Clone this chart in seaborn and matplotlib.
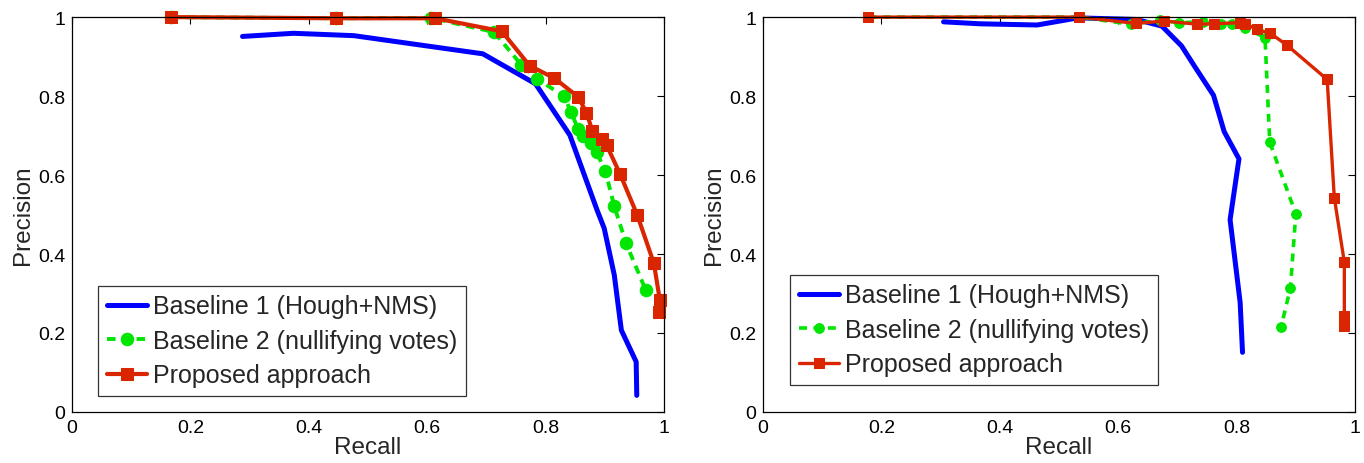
import matplotlib
matplotlib.use("Agg")
import matplotlib.pyplot as plt
import seaborn as sns

# left panel
left_b1_recall = [0.288, 0.374, 0.476, 0.694, 0.783, 0.841, 0.887, 0.899, 0.916, 0.928, 0.953, 0.954]
left_b1_prec = [0.951, 0.959, 0.953, 0.907, 0.831, 0.701, 0.511, 0.465, 0.347, 0.207, 0.127, 0.042]

left_b2_recall = [0.168, 0.446, 0.606, 0.713, 0.759, 0.786, 0.831, 0.843, 0.855, 0.863,
                  0.876, 0.886, 0.901, 0.916, 0.936, 0.969]
left_b2_prec = [1.0, 0.997, 0.998, 0.962, 0.879, 0.843, 0.800, 0.760, 0.716, 0.699,
                0.682, 0.658, 0.610, 0.521, 0.427, 0.309]

left_pr_recall = [0.168, 0.446, 0.614, 0.726, 0.773, 0.815, 0.855, 0.869, 0.879, 0.895,
                  0.903, 0.926, 0.955, 0.983, 0.993, 0.991]
left_pr_prec = [1.0, 0.997, 0.997, 0.964, 0.877, 0.845, 0.798, 0.758, 0.712, 0.692,
                0.676, 0.602, 0.498, 0.376, 0.283, 0.254]

# right panel
right_b1_recall = [0.305, 0.367, 0.463, 0.532, 0.631, 0.674, 0.707, 0.730, 0.761, 0.779,
                   0.804, 0.789, 0.806, 0.810]
right_b1_prec = [0.988, 0.983, 0.980, 0.998, 0.994, 0.977, 0.927, 0.873, 0.802, 0.710,
                 0.641, 0.487, 0.277, 0.151]

right_b2_recall = [0.178, 0.534, 0.621, 0.670, 0.703, 0.743, 0.773, 0.792, 0.815, 0.848,
                   0.856, 0.900, 0.891, 0.875]
right_b2_prec = [1.0, 1.0, 0.982, 0.992, 0.986, 0.988, 0.983, 0.982, 0.972, 0.948,
                 0.683, 0.502, 0.315, 0.214]

right_pr_recall = [0.178, 0.534, 0.630, 0.678, 0.733, 0.761, 0.806, 0.815, 0.834, 0.857,
                   0.885, 0.953, 0.965, 0.982, 0.982, 0.982]
right_pr_prec = [1.0, 1.0, 0.984, 0.990, 0.982, 0.983, 0.986, 0.983, 0.969, 0.959,
                 0.929, 0.842, 0.543, 0.379, 0.243, 0.218]

labels = ["Baseline 1 (Hough+NMS)", "Baseline 2 (nullifying votes)", "Proposed approach"]
ticks = [0, 0.2, 0.4, 0.6, 0.8, 1]
tick_labels = ["0", "0.2", "0.4", "0.6", "0.8", "1"]

BLUE = "#0000ff"
GREEN = "#00e600"
RED = "#d92600"

sns.set_style("white")
plt.rcParams["font.family"] = ["Liberation Sans", "DejaVu Sans"]

fig = plt.figure(figsize=(13.64, 4.64), dpi=100)
ax_l = fig.add_axes([0.0528, 0.11, 0.434, 0.851])
ax_r = fig.add_axes([0.5594, 0.11, 0.434, 0.851])


def draw_panel(ax, series, styles, legend_anchor):
    for (rec, prec), label, st in zip(series, labels, styles):
        sns.lineplot(x=rec, y=prec, ax=ax, sort=False, estimator=None,
                     label=label, clip_on=False, **st)
    ax.set_xlim(0, 1)
    ax.set_ylim(0, 1)
    ax.set_xticks(ticks)
    ax.set_xticklabels(tick_labels)
    ax.set_yticks(ticks)
    ax.set_yticklabels(tick_labels)
    ax.tick_params(direction="in", length=5, width=0.8, top=True, right=True,
                   labelsize=14, pad=5, colors="black")
    for sp in ax.spines.values():
        sp.set_color("black")
        sp.set_linewidth(0.9)
    ax.set_xlabel("Recall", fontsize=17.5, labelpad=0)
    ax.set_ylabel("Precision", fontsize=17.5, labelpad=3)
    leg = ax.legend(loc="lower left", bbox_to_anchor=legend_anchor, fontsize=18,
                    frameon=True, fancybox=False, handlelength=1.6,
                    handletextpad=0.25, borderpad=0.35, labelspacing=0.42,
                    borderaxespad=0)
    leg.get_frame().set_edgecolor("black")
    leg.get_frame().set_linewidth(0.9)


left_styles = [
    dict(color=BLUE, linewidth=3.6),
    dict(color=GREEN, linewidth=2.8, linestyle=(0, (2.2, 1.6)), marker="o",
         markersize=9, markeredgecolor=GREEN, markerfacecolor=GREEN),
    dict(color=RED, linewidth=3.0, marker="s", markersize=9,
         markeredgecolor=RED, markerfacecolor=RED),
]
right_styles = [
    dict(color=BLUE, linewidth=3.6),
    dict(color=GREEN, linewidth=2.6, linestyle=(0, (2.2, 1.8)), marker="o",
         markersize=7, markeredgecolor=GREEN, markerfacecolor=GREEN),
    dict(color=RED, linewidth=2.4, marker="s", markersize=7,
         markeredgecolor=RED, markerfacecolor=RED),
]

draw_panel(ax_l,
           [(left_b1_recall, left_b1_prec), (left_b2_recall, left_b2_prec),
            (left_pr_recall, left_pr_prec)],
           left_styles, (0.044, 0.04))
draw_panel(ax_r,
           [(right_b1_recall, right_b1_prec), (right_b2_recall, right_b2_prec),
            (right_pr_recall, right_pr_prec)],
           right_styles, (0.046, 0.068))

fig.savefig("out.png", dpi=100)
